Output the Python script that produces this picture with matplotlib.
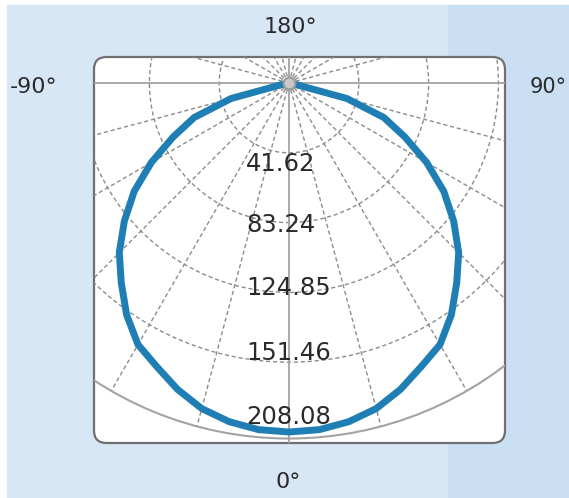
import numpy as np
import matplotlib
matplotlib.use("Agg")
import matplotlib.pyplot as plt
from matplotlib.patches import FancyBboxPatch, Circle, Rectangle

# luminous intensity (cd/klm) vs. angle from nadir, symmetric curve
gamma = np.arange(0, 185, 5)
intensity = np.array([208.1, 207.5, 205.1, 201.0, 194.4, 186.6, 180.1, 168.8, 155.6,
                      143.1, 128.2, 112.7, 94.8, 76.3, 60.2, 35.8, 2.4, 0.0, 0.0]
                     + [0.0] * 18)
ring_values = [41.62, 83.24, 124.85, 166.47]
ring_labels = ["41.62", "83.24", "124.85", "151.46", "208.08"]
angle_labels = ["180°", "-90°", "90°", "0°"]

W, H = 569, 498
K = 1.677            # px per cd/klm
OX, OY = 289, 83     # origin in px
PX0, PX1, PY0, PY1 = 94, 505, 57, 443

GRID = "#8c8c8c"
SOLID = "#a3a3a3"
BLUE = "#1f7fb5"
TXT = "#2a2a2a"

fig = plt.figure(figsize=(W / 100, H / 100), dpi=100)
fig.patch.set_facecolor("white")
fig.patches.append(Rectangle((7 / W, 0), (448 - 7) / W, 1 - 5 / H, transform=fig.transFigure,
                             color="#d8e7f6", zorder=-10))
fig.patches.append(Rectangle((448 / W, 0), (W - 448) / W, 1 - 5 / H, transform=fig.transFigure,
                             color="#cadff4", zorder=-10))

ax = fig.add_axes([PX0 / W, 1 - PY1 / H, (PX1 - PX0) / W, (PY1 - PY0) / H])
ax.set_zorder(1)
x0, x1 = (PX0 - OX) / K, (PX1 - OX) / K
y0, y1 = (PY0 - OY) / K, (PY1 - OY) / K
ax.set_xlim(x0, x1)
ax.set_ylim(y1, y0)
ax.axis("off")

panel = FancyBboxPatch((x0, y0), x1 - x0, y1 - y0,
                       boxstyle="round,pad=0,rounding_size=7.5",
                       fc="white", ec="#707070", lw=1.6, transform=ax.transData,
                       clip_on=False, zorder=1)
ax.add_patch(panel)

R_OUT = 212
# radial dashed lines every 15 deg
for a in np.arange(0, 360, 15):
    if a % 90 == 0:
        continue
    t = np.radians(a)
    ln, = ax.plot([0, R_OUT * np.sin(t)], [0, R_OUT * np.cos(t)], color=GRID, lw=1.0,
                  ls=(0, (3, 2)), zorder=2)
    ln.set_clip_path(panel)
for rv in ring_values:
    c = Circle((0, 0), rv, fill=False, ec=GRID, lw=1.0, ls=(0, (3, 2)), zorder=2)
    ax.add_patch(c)
    c.set_clip_path(panel)
outer = Circle((0, 0), R_OUT, fill=False, ec=SOLID, lw=1.5, zorder=2)
ax.add_patch(outer)
outer.set_clip_path(panel)
hl = ax.axhline(0, color=SOLID, lw=1.3, zorder=2)
hl.set_clip_path(panel)
vl = ax.axvline(0, color=SOLID, lw=1.3, zorder=2)
vl.set_clip_path(panel)

# intensity curve
g_full = np.concatenate([-gamma[::-1], gamma[1:]])
i_full = np.concatenate([intensity[::-1], intensity[1:]])
t = np.radians(g_full)
curve, = ax.plot(i_full * np.sin(t), i_full * np.cos(t), color=BLUE, lw=5.0,
                 solid_joinstyle="round", solid_capstyle="round", zorder=3)
curve.set_clip_path(panel)

ax.plot([0], [0], marker="o", ms=8.5, mfc="#c9c9c9", mec="#9a9a9a", mew=1.5, zorder=4,
        clip_on=False)

label_y = [164, 225, 288, 353, 417]
for lab, yp in zip(ring_labels, label_y):
    ax.text((246 - OX) / K, (yp - OY) / K, lab, ha="left", va="center",
            fontsize=17.5, color=TXT, zorder=5)

fig.text(290 / W, 1 - 27 / H, angle_labels[0], ha="center", va="center", fontsize=16, color=TXT)
fig.text(10 / W, 1 - 87 / H, angle_labels[1], ha="left", va="center", fontsize=16, color=TXT)
fig.text(530 / W, 1 - 87 / H, angle_labels[2], ha="left", va="center", fontsize=15, color=TXT)
fig.text(288 / W, 1 - 482 / H, angle_labels[3], ha="center", va="center", fontsize=16, color=TXT)

fig.savefig("out.png", dpi=100)
